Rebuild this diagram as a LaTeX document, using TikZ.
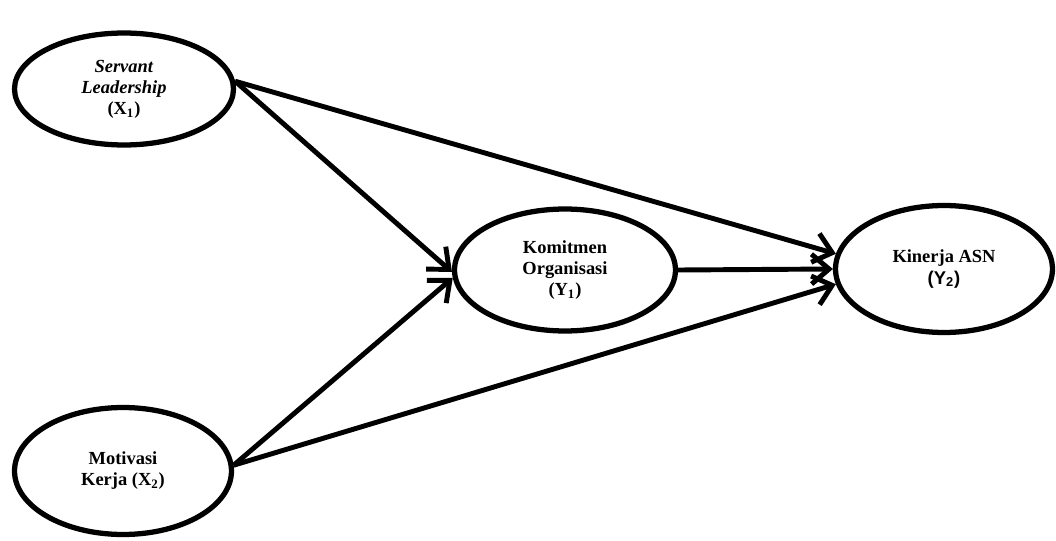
\documentclass[tikz,border=0pt]{standalone}
\usepackage{fontspec}
\setmainfont{Liberation Serif}
\newfontfamily\arialfont{Liberation Sans}
\usetikzlibrary{shapes.geometric,arrows.meta}
\begin{document}
\begin{tikzpicture}[x=0.02cm,y=-0.02cm,
    var/.style={ellipse,draw,line width=3pt,align=center,inner sep=0pt,
        font=\bfseries\fontsize{10.5}{12}\selectfont},
    link/.style={line width=2.8pt,-{Straight Barb[length=10pt,width=17pt]}}]
    \useasboundingbox (0,0) rectangle (1056,541);
    % latent variables
    \node[var,minimum width=4.38cm,minimum height=2.24cm] (x1) at (124,89)
        {\textit{Servant}\\\textit{Leadership}\\(X\textsubscript{1})};
    \node[var,minimum width=4.34cm,minimum height=2.54cm] (x2) at (123,471)
        {Motivasi\\Kerja (X\textsubscript{2})};
    \node[var,minimum width=4.42cm,minimum height=2.44cm] (y1) at (565,270)
        {Komitmen\\Organisasi\\(Y\textsubscript{1})};
    \node[var,minimum width=4.34cm,minimum height=2.54cm] (y2) at (944,269)
        {Kinerja ASN\\{\arialfont(Y\textsubscript{2})}};
    % paths
    \draw[link] (x1.4) -- (y1.181);
    \draw[link] (x2.3) -- (y1.184);
    \draw[link] (x1.4) -- (y2.172);
    \draw[link] (y1.east) -- (y2.west);
    \draw[link] (x2.3) -- (y2.188);
\end{tikzpicture}
\end{document}
